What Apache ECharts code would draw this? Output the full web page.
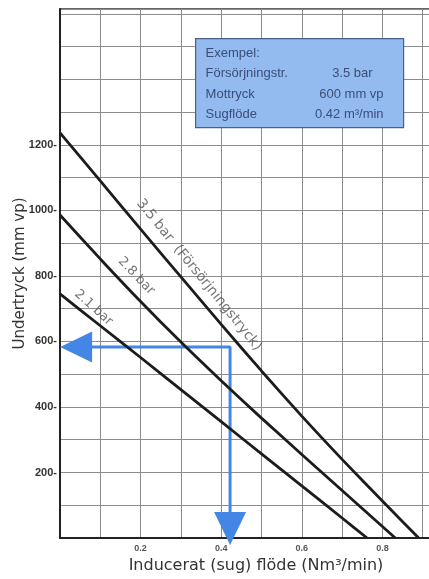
<!DOCTYPE html>
<html>
<head>
<meta charset="utf-8">
<script src="https://cdn.jsdelivr.net/npm/echarts@6/dist/echarts.min.js"></script>
<style>
html,body{margin:0;padding:0;background:#fff;}
#chart{width:429px;height:579px;}
</style>
</head>
<body>
<div id="chart"></div>
<script>
// Induced (suction) flow, Nm3/min
const flowX = [0, 0.1, 0.2, 0.3, 0.4, 0.5, 0.6, 0.7, 0.8];
// Vacuum (mm vp) per supply pressure
const bar35 = [1237, 1090, 943, 797, 652, 510, 372, 240, 113];
const bar35End = [0.89, 0];
const bar28 = [986, 852, 722, 598, 480, 366, 255, 145, 35];
const bar28End = [0.832, 0];
const bar21 = [745, 648, 551, 453, 355, 257, 159, 61];
const bar21End = [0.762, 0];

const lineNames = ['3.5 bar  (Försörjningstryck)', '2.8 bar', '2.1 bar'];
const labelPos = [[0.345, 803], [0.189, 800], [0.083, 703]];
const labelAngle = [-51, -46, -42];

// Example: flow 0.42, back pressure ~600 mm vp (as drawn)
const exampleFlow = 0.422;
const exampleVac = 583;
const arrowLeftX = 0.04;
const arrowDownY = 29;

const xTicks = ['0.2', '0.4', '0.6', '0.8'];
const yTicks = ['200', '400', '600', '800', '1000', '1200'];

function pairs(xs, ys, end) {
  const out = ys.map((v, i) => [xs[i], v]);
  out.push(end);
  return out;
}

const chart = echarts.init(document.getElementById('chart'), null, {renderer: 'canvas'});
const gridColor = '#8c8c8c';
const boxText = '#3a4e78';
const boxFont = '13px "Liberation Sans"';
const option = {
  animation: false,
  backgroundColor: '#fff',
  grid: {left: 60, top: 9, right: -2, bottom: 41, show: true, borderColor: '#333', borderWidth: 1.6,
         containLabel: false, outerBoundsMode: 'none'},
  xAxis: {
    type: 'value', min: 0, max: 0.9206, interval: 0.1,
    axisLine: {show: true, onZero: false, lineStyle: {color: '#222', width: 2}},
    axisTick: {show: false},
    axisLabel: {
      showMaxLabel: false, margin: 6, fontSize: 9, fontWeight: 'bold', color: '#555', fontFamily: 'Liberation Sans',
      formatter: v => { const s = (Math.round(v * 10) / 10).toFixed(1); return xTicks.includes(s) ? s : ''; }
    },
    splitLine: {show: true, lineStyle: {color: gridColor, width: 1}},
    name: 'Inducerat (sug) flöde (Nm³/min)',
    nameLocation: 'middle', nameGap: 20, nameMoveOverlap: false,
    nameTextStyle: {fontSize: 16, color: '#333', fontFamily: 'DejaVu Sans', padding: [0, 0, 0, 21]}
  },
  yAxis: {
    type: 'value', min: 0, max: 1615, interval: 100,
    axisLine: {show: true, onZero: false, lineStyle: {color: '#222', width: 2}},
    axisTick: {show: false},
    axisLabel: {
      showMaxLabel: false, margin: 3, fontSize: 11, fontWeight: 'bold', color: '#333', fontFamily: 'Liberation Sans',
      formatter: v => { const s = String(Math.round(v)); return yTicks.includes(s) ? s + '-' : ''; }
    },
    splitLine: {show: true, lineStyle: {color: gridColor, width: 1}},
    name: 'Undertryck (mm vp)',
    nameLocation: 'middle', nameGap: 32, nameMoveOverlap: false,
    nameTextStyle: {fontSize: 15, color: '#333', fontFamily: 'DejaVu Sans'}
  },
  series: [
    {type: 'line', name: '3.5', data: pairs(flowX, bar35, bar35End), showSymbol: false, smooth: 0.2,
     lineStyle: {color: '#1c1c1c', width: 2.8}, z: 5},
    {type: 'line', name: '2.8', data: pairs(flowX, bar28, bar28End), showSymbol: false, smooth: 0.2,
     lineStyle: {color: '#1c1c1c', width: 2.8}, z: 5},
    {type: 'line', name: '2.1', data: pairs(flowX, bar21, bar21End), showSymbol: false, smooth: 0.2,
     lineStyle: {color: '#1c1c1c', width: 2.8}, z: 5},
    {type: 'line', name: 'example',
     data: [[arrowLeftX, exampleVac], [exampleFlow, exampleVac], [exampleFlow, arrowDownY]],
     showSymbol: false, lineStyle: {color: '#4386e6', width: 3}, z: 4},
    {type: 'scatter', name: 'arrows', clip: false, z: 6,
     itemStyle: {color: '#4386e6', opacity: 1},
     data: [
       {value: [arrowLeftX, exampleVac], symbol: 'triangle', symbolSize: [31, 32], symbolRotate: 90},
       {value: [exampleFlow, arrowDownY], symbol: 'triangle', symbolSize: [32, 33], symbolRotate: 180}
     ]},
    {type: 'scatter', name: 'labels', symbolSize: 0, z: 7, silent: true,
     data: lineNames.map((n, i) => ({
       name: n, value: labelPos[i],
       label: {show: true, formatter: '{b}', rotate: labelAngle[i], position: 'inside',
               fontSize: i === 0 ? 14 : 13, color: '#555', fontFamily: 'DejaVu Sans'}
     }))}
  ],
  graphic: [{
    type: 'group', left: 195, top: 38, z: 100,
    children: [
      {type: 'rect', z: 100, shape: {x: 0, y: 0, width: 208, height: 89},
       style: {fill: '#93bbef', stroke: '#4a5f88', lineWidth: 1.2}},
      {type: 'text', z: 101, x: 10, y: 15, style: {text: 'Exempel:', fill: boxText, font: boxFont, textVerticalAlign: 'middle'}},
      {type: 'text', z: 101, x: 10, y: 35, style: {text: 'Försörjningstr.', fill: boxText, font: boxFont, textVerticalAlign: 'middle'}},
      {type: 'text', z: 101, x: 177, y: 35, style: {text: '3.5 bar', fill: boxText, font: boxFont, textAlign: 'right', textVerticalAlign: 'middle'}},
      {type: 'text', z: 101, x: 10, y: 56, style: {text: 'Mottryck', fill: boxText, font: boxFont, textVerticalAlign: 'middle'}},
      {type: 'text', z: 101, x: 188, y: 56, style: {text: '600 mm vp', fill: boxText, font: boxFont, textAlign: 'right', textVerticalAlign: 'middle'}},
      {type: 'text', z: 101, x: 10, y: 76, style: {text: 'Sugflöde', fill: boxText, font: boxFont, textVerticalAlign: 'middle'}},
      {type: 'text', z: 101, x: 188, y: 76, style: {text: '0.42 m³/min', fill: boxText, font: boxFont, textAlign: 'right', textVerticalAlign: 'middle'}}
    ]
  }]
};
chart.setOption(option);
</script>
</body>
</html>
